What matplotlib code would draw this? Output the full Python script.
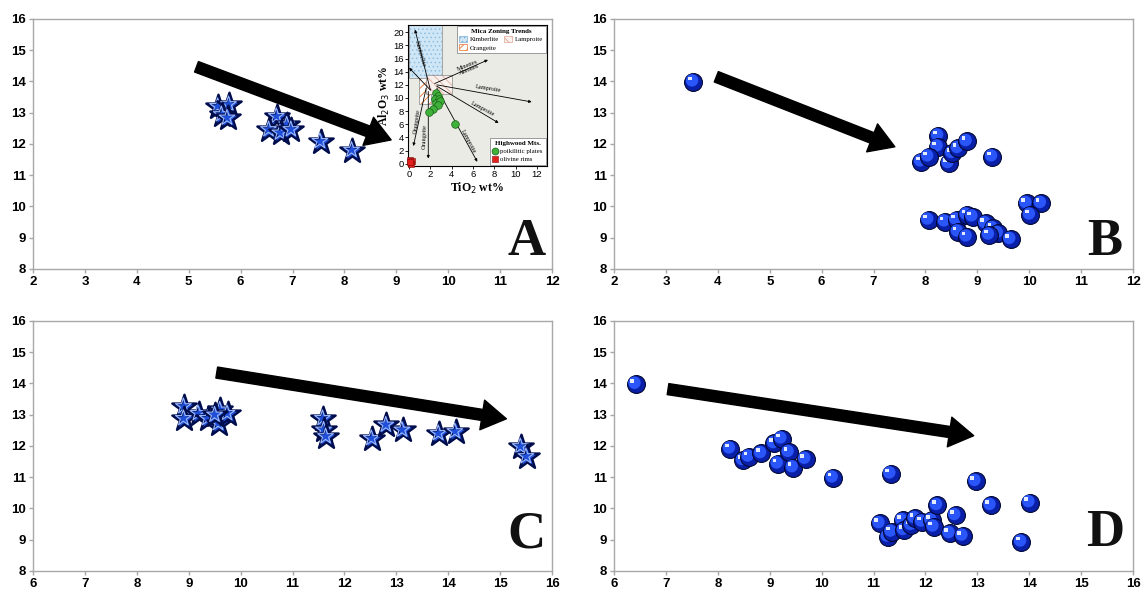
import matplotlib
matplotlib.use('Agg')
import matplotlib.pyplot as plt
from matplotlib import transforms
from matplotlib.patches import Rectangle, Patch
from matplotlib.lines import Line2D

plt.rcParams['font.family'] = ['Liberation Sans', 'DejaVu Sans']
plt.rcParams['hatch.linewidth'] = 0.6

# panel A (stars), x 2-12
a_x = [5.57, 5.78, 5.64, 5.75, 6.70, 6.55, 6.90, 6.77, 6.98, 7.54, 8.15]
a_y = [13.19, 13.25, 12.93, 12.82, 12.87, 12.45, 12.60, 12.34, 12.45, 12.07, 11.79]
a_arrow = [(5.15, 14.47), (8.9, 12.13)]

# panel B (spheres), x 2-12
b_x = [3.53, 8.25, 8.24, 7.92, 8.06, 8.45, 8.52, 8.63, 8.80, 9.29,
       8.06, 8.38, 8.60, 8.80, 8.91, 8.63, 8.80, 9.16, 9.30, 9.40, 9.23, 9.64, 9.95, 10.23, 10.02]
b_y = [13.99, 12.26, 11.91, 11.43, 11.59, 11.38, 11.70, 11.86, 12.08, 11.59,
       9.57, 9.51, 9.57, 9.73, 9.67, 9.19, 9.03, 9.46, 9.30, 9.14, 9.09, 8.95, 10.10, 10.10, 9.73]
b_arrow = [(3.97, 14.15), (7.41, 11.91)]

# panel C (stars), x 6-16
c_x = [8.91, 8.91, 9.19, 9.37, 9.58, 9.61, 9.75, 9.51, 11.59, 11.61, 11.65,
       12.53, 12.81, 13.12, 13.82, 14.14, 15.40, 15.51]
c_y = [13.25, 12.87, 13.03, 12.87, 12.71, 13.14, 13.03, 12.98, 12.87, 12.50, 12.29,
       12.23, 12.66, 12.50, 12.39, 12.45, 11.97, 11.65]
c_arrow = [(9.54, 14.35), (15.12, 12.87)]

# panel D (spheres), x 6-16
d_x = [6.42, 8.24, 8.49, 8.60, 8.84, 9.09, 9.23, 9.16, 9.37, 9.45, 9.69, 10.22, 11.33,
       11.12, 11.28, 11.35, 11.56, 11.59, 11.73, 11.80, 11.94, 12.12, 12.16, 12.23,
       12.47, 12.58, 12.72, 12.97, 13.26, 13.85, 14.01]
d_y = [13.98, 11.91, 11.54, 11.65, 11.76, 12.08, 12.23, 11.43, 11.80, 11.31, 11.58, 10.98, 11.11,
       9.52, 9.09, 9.25, 9.62, 9.30, 9.46, 9.68, 9.57, 9.62, 9.41, 10.10,
       9.20, 9.78, 9.12, 10.87, 10.10, 8.93, 10.19]
d_arrow = [(7.04, 13.82), (12.93, 12.33)]

# inset of panel A
poik_x = [2.5, 2.7, 2.4, 2.8, 2.5, 2.9, 2.7, 2.2, 1.9, 4.3]
poik_y = [10.8, 10.3, 9.8, 9.8, 9.3, 9.6, 9.0, 8.4, 7.8, 6.0]
oliv_x = [0.1, 0.25, 0.2, 0.12]
oliv_y = [0.6, 0.4, 0.0, 0.2]
kimb_box = (0.0, 13.1, 3.1, 8.0)     # x, y, w, h
oran_box = (0.9, 9.1, 1.2, 4.0)
lamp_box = (1.6, 10.6, 2.4, 2.9)
trend_arrows = [
    ('Kimberlite', (2.0, 11.2), (0.55, 20.4), (1.05, 16.8), -74),
    ('', (2.0, 11.2), (0.0, 14.6), None, 0),
    ('Orangeite', (1.6, 11.5), (0.4, 2.7), (0.75, 6.5), 82),
    ('Orangeite', (1.8, 11.0), (1.8, 0.8), (1.5, 4.2), 88),
    ('Minettes\nAlnoites', (2.4, 12.2), (7.4, 15.8), (5.6, 14.6), 22),
    ('Lamproite', (2.6, 12.0), (11.5, 9.4), (7.4, 11.4), -9),
    ('Lamproite', (2.6, 11.8), (8.4, 6.2), (6.9, 8.3), -28),
    ('Lamproite', (2.6, 11.5), (6.4, 0.3), (5.5, 3.4), -62),
]

fig = plt.figure(figsize=(11.42, 5.93), dpi=100)

W, H = 0.4545, 0.4216
axA = fig.add_axes([0.0289, 0.5464, W, H])
axB = fig.add_axes([0.5377, 0.5464, W, H])
axC = fig.add_axes([0.0289, 0.0371, W, H])
axD = fig.add_axes([0.5377, 0.0371, W, H])


def style(ax, x0, x1, letter, lx, ly):
    ax.set_xlim(x0, x1)
    ax.set_ylim(8, 16)
    ax.set_xticks(range(x0, x1 + 1))
    ax.set_yticks(range(8, 17))
    for s in ax.spines.values():
        s.set_color('#a8a8a8')
        s.set_linewidth(1.0)
    ax.tick_params(direction='out', length=3, width=1, color='#a8a8a8',
                   labelsize=9.5, pad=2)
    for lab in ax.get_xticklabels() + ax.get_yticklabels():
        lab.set_fontweight('bold')
    ax.text(lx, ly, letter, transform=ax.transAxes, ha='center', va='baseline',
            fontsize=38, fontweight='bold', family='Liberation Serif', color='#111')


def big_arrow(ax, pts):
    ax.annotate('', xy=pts[1], xytext=pts[0],
                arrowprops=dict(arrowstyle='simple,head_length=1.1,head_width=1.35,tail_width=0.5',
                                mutation_scale=16, fc='k', ec='k', shrinkA=0, shrinkB=0),
                zorder=5)


def stars(ax, x, y):
    off = transforms.offset_copy(ax.transData, fig=fig, x=-0.5, y=0.5, units='points')
    for i in range(len(x)):
        z = 3 + i * 0.01
        ax.scatter(x[i], y[i], s=340, marker='*', c='#1f4fd9', edgecolors='#000d4d',
                   linewidths=1.7, zorder=z)
        ax.scatter(x[i], y[i], s=140, marker='*', c='none', edgecolors='#9dbaff',
                   linewidths=0.8, transform=off, zorder=z + 0.001)


def spheres(ax, x, y):
    t1 = transforms.offset_copy(ax.transData, fig=fig, x=-1.0, y=1.0, units='points')
    t2 = transforms.offset_copy(ax.transData, fig=fig, x=-2.6, y=2.4, units='points')
    for i in range(len(x)):
        z = 3 + i * 0.01
        ax.scatter(x[i], y[i], s=165, c='#0a1fa8', edgecolors='#000733',
                   linewidths=0.8, zorder=z)
        ax.scatter(x[i], y[i], s=80, c='#2a55f8', edgecolors='none',
                   transform=t1, zorder=z + 0.001)
        ax.scatter(x[i], y[i], s=7, marker='s', c='#e4ebff', edgecolors='none',
                   transform=t2, zorder=z + 0.002)


style(axA, 2, 12, 'A', 0.95, 0.055)
style(axB, 2, 12, 'B', 0.945, 0.055)
style(axC, 6, 16, 'C', 0.95, 0.095)
style(axD, 6, 16, 'D', 0.947, 0.10)

stars(axA, a_x, a_y)
stars(axC, c_x, c_y)
spheres(axB, b_x, b_y)
spheres(axD, d_x, d_y)
big_arrow(axA, a_arrow)
big_arrow(axB, b_arrow)
big_arrow(axC, c_arrow)
big_arrow(axD, d_arrow)

# inset
ins = fig.add_axes([0.3573, 0.720, 0.1213, 0.2378])
ins.set_facecolor('#e9ebe4')
ins.set_xlim(-0.1, 12.9)
ins.set_ylim(-0.35, 21.1)
ins.set_xticks(range(0, 13, 2))
ins.set_yticks(range(0, 21, 2))
ins.tick_params(direction='out', length=2, width=0.6, labelsize=6.8, pad=1)
for s in ins.spines.values():
    s.set_linewidth(0.8)
ins.set_xlabel('TiO$_2$ wt%', family='Liberation Serif', fontweight='bold', fontsize=8.5, labelpad=1)
ins.set_ylabel('Al$_2$O$_3$ wt%', family='Liberation Serif', fontweight='bold', fontsize=8.5, labelpad=1)

kim_kw = dict(facecolor='#cfe6f6', edgecolor='#8fbfe0', hatch='....')
ora_kw = dict(facecolor='white', edgecolor='#e8702a', hatch='////')
lam_kw = dict(facecolor='#fbf3f0', edgecolor='#e0a494', hatch='\\\\\\\\')
ins.add_patch(Rectangle(kimb_box[:2], kimb_box[2], kimb_box[3], lw=0, zorder=1, **kim_kw))
ins.add_patch(Rectangle(kimb_box[:2], kimb_box[2], kimb_box[3], fc='none', ec='#999', lw=0.6, zorder=1.1))
ins.add_patch(Rectangle(oran_box[:2], oran_box[2], oran_box[3], lw=0, zorder=1.2, **ora_kw))
ins.add_patch(Rectangle(oran_box[:2], oran_box[2], oran_box[3], fc='none', ec='#999', lw=0.6, zorder=1.3))
ins.add_patch(Rectangle(lamp_box[:2], lamp_box[2], lamp_box[3], lw=0, zorder=1.4, alpha=0.9, **lam_kw))
ins.add_patch(Rectangle(lamp_box[:2], lamp_box[2], lamp_box[3], fc='none', ec='#999', lw=0.6, zorder=1.5))

for label, p0, p1, tp, rot in trend_arrows:
    ins.annotate('', xy=p1, xytext=p0,
                 arrowprops=dict(arrowstyle='-|>', lw=0.6, color='k', mutation_scale=4,
                                 shrinkA=0, shrinkB=0), zorder=2)
    if label:
        ins.text(tp[0], tp[1], label, rotation=rot, ha='center', va='center',
                 family='Liberation Serif', fontsize=4.5, linespacing=0.9, zorder=2.5)

ins.plot(poik_x, poik_y, 'o', ms=5.5, mfc='#3fb13a', mec='#1b5e16', mew=0.5, zorder=3)
ins.plot(oliv_x, oliv_y, 's', ms=4.5, mfc='#e3201b', mec='#7a0a08', mew=0.4, zorder=3, clip_on=False)

serif_small = {'family': 'Liberation Serif', 'size': 4.9}
serif_title = {'family': 'Liberation Serif', 'size': 5.0, 'weight': 'bold'}
leg1 = ins.legend(handles=[Patch(label='Kimberlite', lw=0.5, **dict(kim_kw, edgecolor='#7aaed0')),
                           Patch(label='Orangeite', lw=0.5, **ora_kw),
                           Patch(label='Lamproite', lw=0.5, **lam_kw)],
                  loc='upper right', ncol=2, title='Mica Zoning Trends', prop=serif_small,
                  title_fontproperties=serif_title, fancybox=False, framealpha=1,
                  edgecolor='#777', borderpad=0.4, handlelength=1.1, handleheight=1.0,
                  columnspacing=0.8, handletextpad=0.4, borderaxespad=0.15, labelspacing=0.3)
leg1.get_frame().set_linewidth(0.5)
ins.add_artist(leg1)
leg2 = ins.legend(handles=[Line2D([], [], ls='none', marker='o', ms=5, mfc='#3fb13a', mec='#1b5e16',
                                  mew=0.5, label='poikilitic plates'),
                           Line2D([], [], ls='none', marker='s', ms=4.3, mfc='#e3201b', mec='#7a0a08',
                                  mew=0.4, label='olivine rims')],
                  loc='lower right', title='Highwood Mts.', prop=serif_small,
                  title_fontproperties=serif_title, fancybox=False, framealpha=1,
                  edgecolor='#777', borderpad=0.4, handlelength=0.8, handletextpad=0.4,
                  borderaxespad=0.15, labelspacing=0.35)
leg2.get_frame().set_linewidth(0.5)

fig.savefig('out.png', dpi=100)
